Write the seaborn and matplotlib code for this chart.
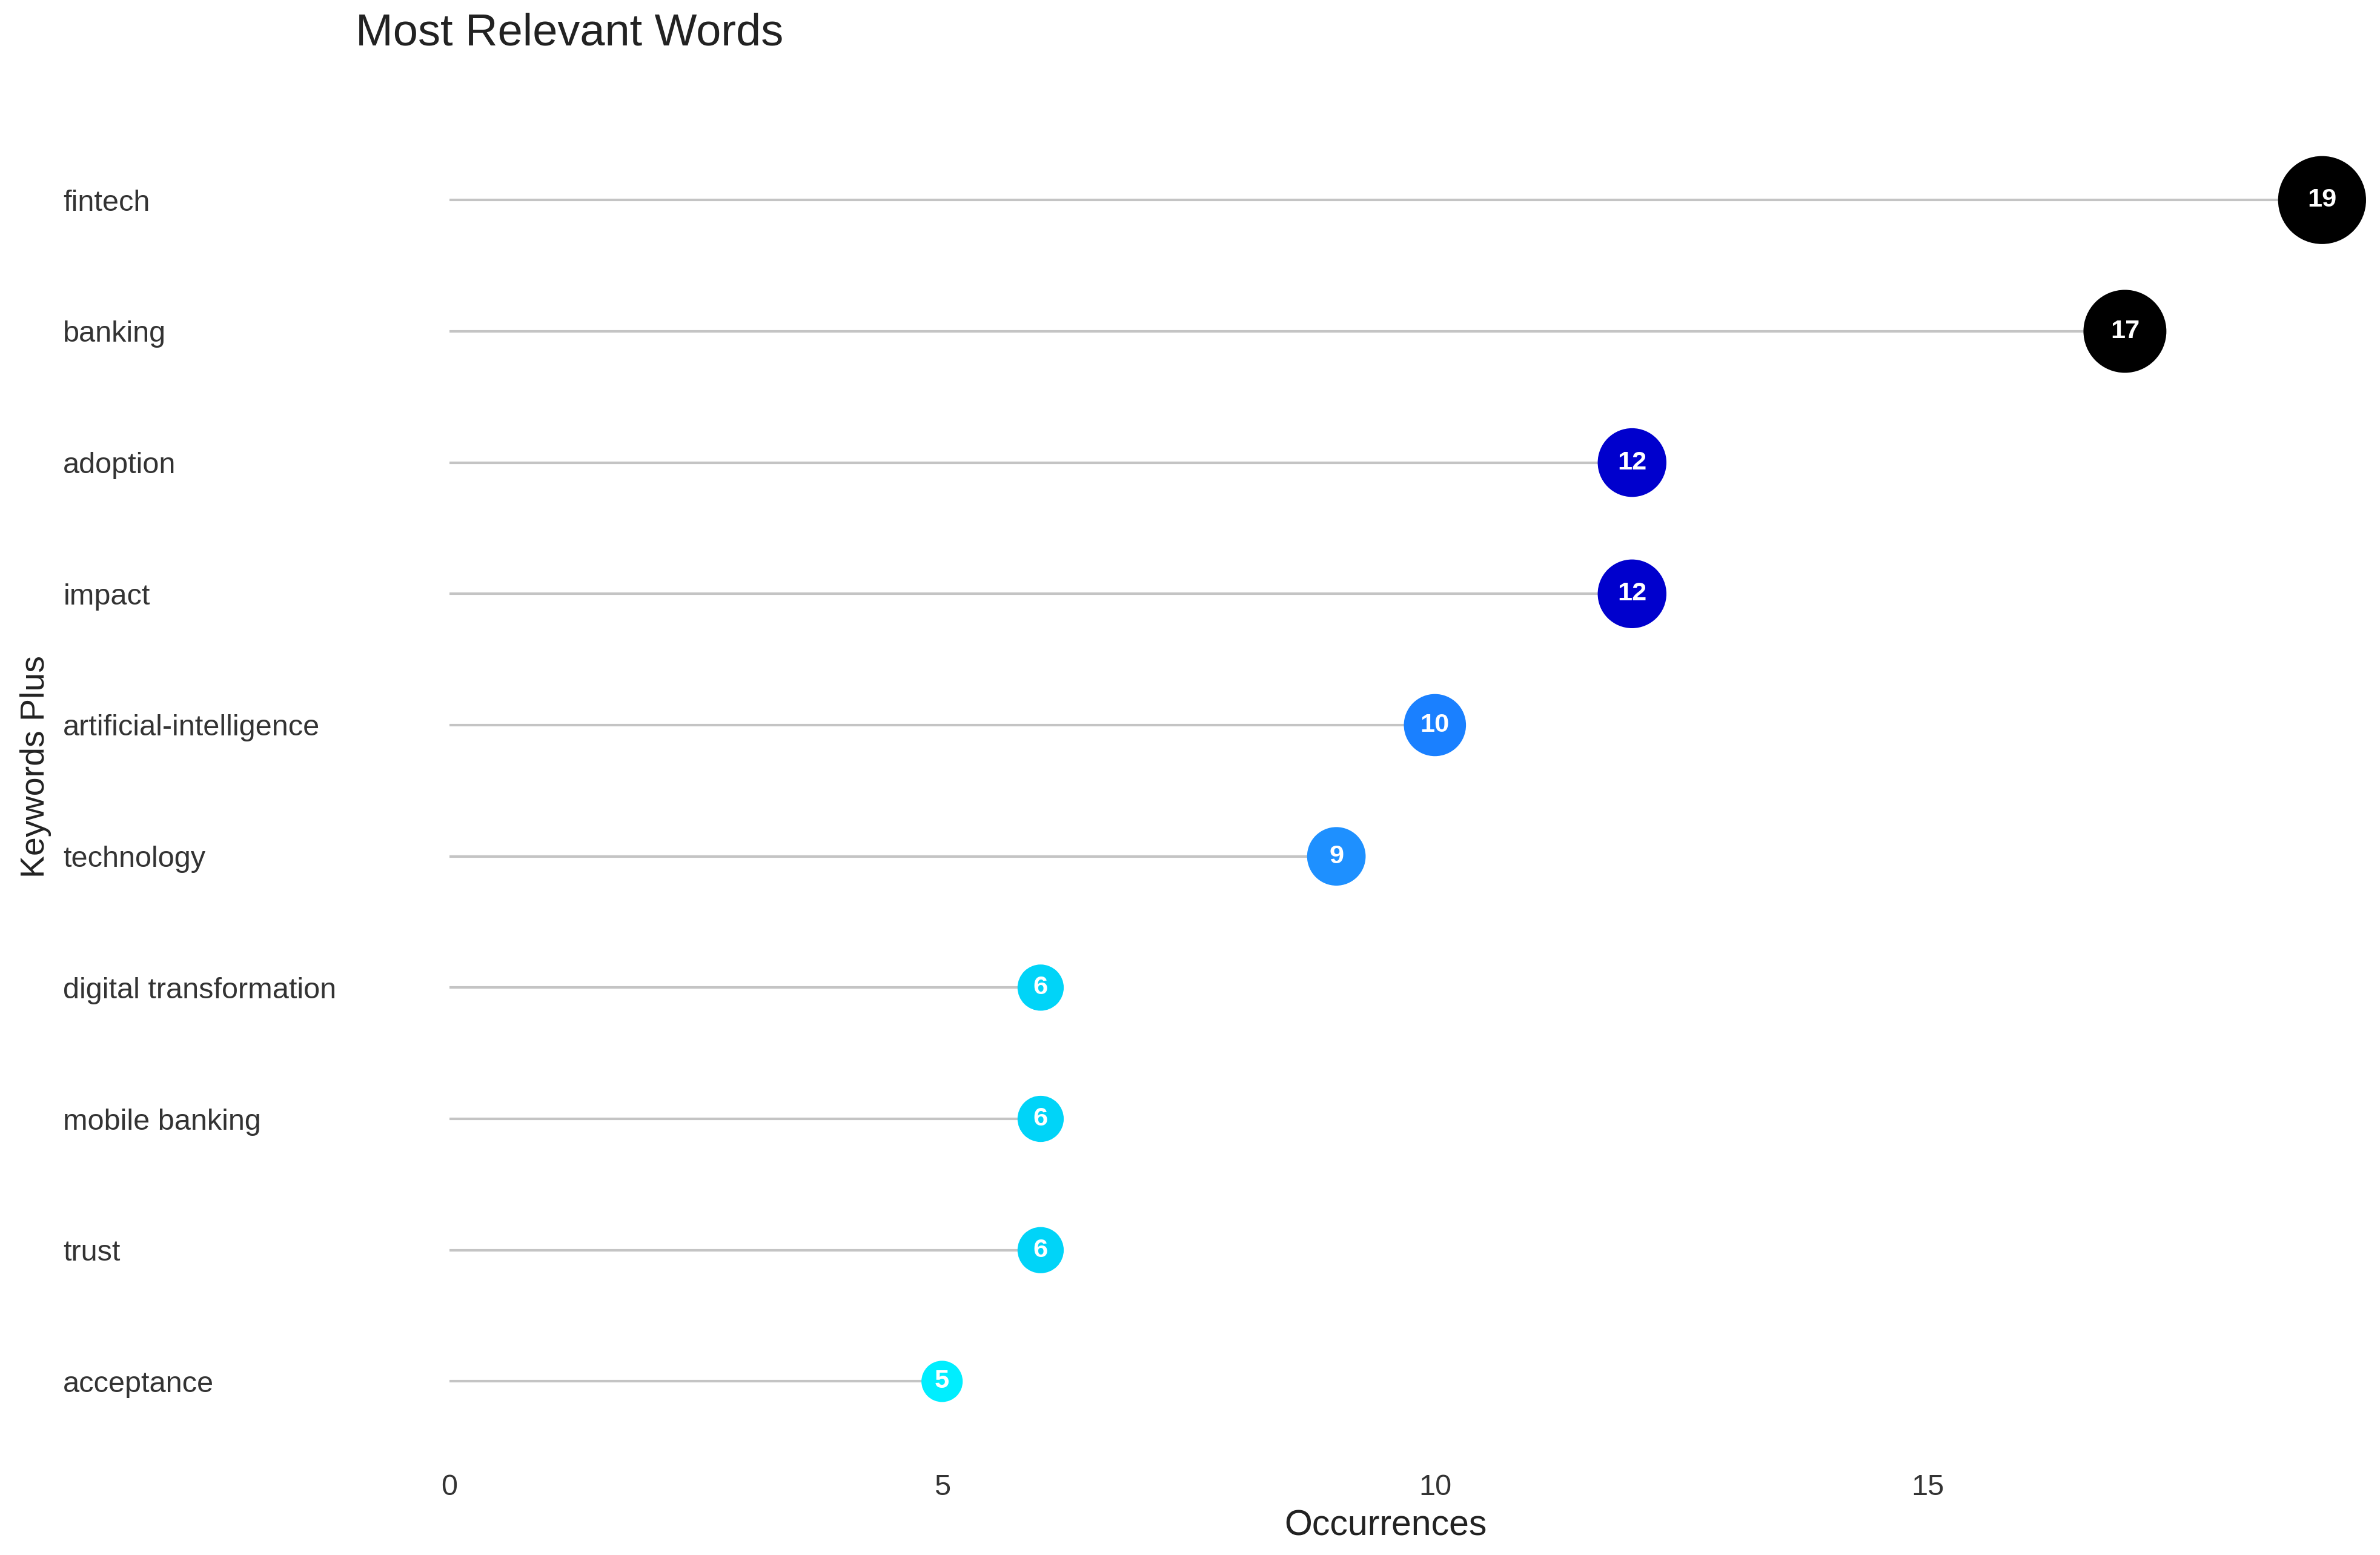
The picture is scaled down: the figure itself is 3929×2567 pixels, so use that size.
# most_relevant_words.py
import numpy as np
import pandas as pd
import seaborn as sns
import matplotlib.pyplot as plt

# Datos
palabras = ["fintech", "banking", "adoption", "impact", "artificial-intelligence",
            "technology", "digital transformation", "mobile banking", "trust", "acceptance"]
ocurrencias = [19, 17, 12, 12, 10, 9, 6, 6, 6, 5]

# Colores por número de ocurrencias
colores = {19: "#000000", 17: "#000000", 12: "#0000cd", 10: "#1a80ff",
           9: "#1e90ff", 6: "#00d4f8", 5: "#00eeff"}

df = pd.DataFrame({"Palabra": palabras, "Ocurrencias": ocurrencias})
df["pos"] = np.arange(len(df))


def generar_grafico():
    sns.set_theme(style="white")
    plt.rcParams["font.family"] = ["Liberation Sans", "DejaVu Sans"]

    fig = plt.figure(figsize=(15.716, 10.268), dpi=250)
    ax = fig.add_axes([0.1494, 0.061, 0.8656, 0.861])

    # Tallos
    ax.hlines(y=df["pos"], xmin=0, xmax=df["Ocurrencias"], color="#c4c4c4",
              linewidth=1.2, zorder=1)

    # Puntos
    sns.scatterplot(data=df, x="Ocurrencias", y="pos", hue="Ocurrencias",
                    palette=colores, size="Ocurrencias", sizes=(385, 1750),
                    linewidth=0, legend=False, ax=ax, zorder=2)

    # Etiquetas dentro de los puntos
    for _, fila in df.iterrows():
        ax.text(fila["Ocurrencias"], fila["pos"], str(fila["Ocurrencias"]),
                color="white", fontsize=12.5, fontweight="bold",
                ha="center", va="center", zorder=3)

    ax.set_xlim(-0.95, 19.95)
    ax.set_ylim(len(df) - 0.4, -0.6)
    ax.set_xticks([0, 5, 10, 15])
    ax.set_yticks(df["pos"])
    ax.set_yticklabels(df["Palabra"], ha="left")
    ax.tick_params(axis="y", length=0, pad=139, labelsize=14, labelcolor="#333333")
    ax.tick_params(axis="x", length=0, pad=6.6, labelsize=14, labelcolor="#333333")
    sns.despine(ax=ax, left=True, bottom=True)
    ax.grid(False)

    ax.set_xlabel("Occurrences", fontsize=17, color="#222222")
    ax.xaxis.set_label_coords(0.5, -0.0366)
    ax.set_ylabel("Keywords Plus", fontsize=16, color="#222222")
    ax.yaxis.set_label_coords(-0.1476, 0.518)

    fig.text(0.1494, 0.9785, "Most Relevant Words", fontsize=21.3,
             color="#222222", ha="left", va="center")

    fig.savefig("out.png", dpi=250)


if __name__ == "__main__":
    generar_grafico()
